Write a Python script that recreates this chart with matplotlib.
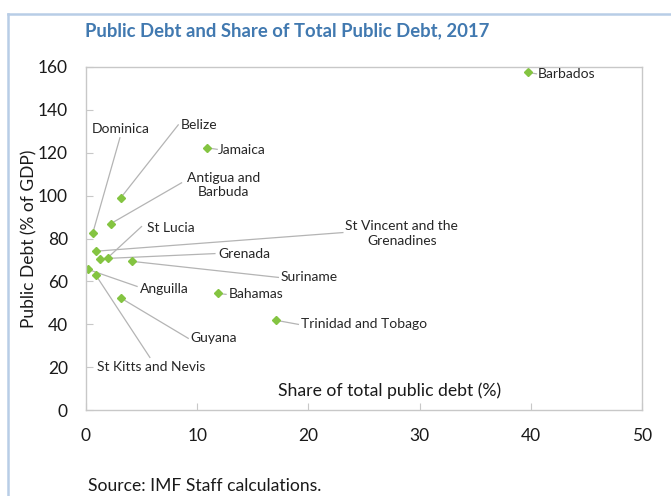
import matplotlib
matplotlib.use("Agg")
import matplotlib.pyplot as plt
from matplotlib.lines import Line2D

plt.rcParams['font.family'] = ['Lato', 'DejaVu Sans']

countries = ['Barbados', 'Jamaica', 'Belize', 'Antigua and\nBarbuda', 'Dominica',
             'St Vincent and the\nGrenadines', 'Grenada', 'St Lucia', 'Suriname',
             'Anguilla', 'St Kitts and Nevis', 'Guyana', 'Bahamas', 'Trinidad and Tobago']
share = [39.7, 10.9, 3.15, 2.25, 0.63, 0.87, 1.26, 1.95, 4.1, 0.15, 0.9, 3.2, 11.9, 17.1]
debt = [157.5, 122.3, 99.1, 87.0, 82.8, 74.1, 70.6, 71.0, 69.4, 65.7, 62.9, 52.1, 54.4, 41.9]

# label placement: (text x, text y, ha, leader end x, leader end y)
label_pos = [
    (40.6, 156.5, 'left', 40.5, 156.8),
    (11.9, 121.4, 'left', 11.8, 121.6),
    (8.5, 133.0, 'left', 8.3, 133.0),
    (12.4, 105.0, 'center', 8.6, 106.0),
    (3.1, 131.2, 'center', 3.06, 127.0),
    (28.4, 82.3, 'center', 23.1, 82.8),
    (11.9, 73.0, 'left', 11.6, 73.0),
    (5.5, 85.1, 'left', 5.0, 85.6),
    (17.5, 61.9, 'left', 17.3, 61.9),
    (4.9, 56.7, 'left', 4.6, 57.7),
    (1.0, 20.0, 'left', 5.75, 24.6),
    (9.35, 33.5, 'left', 9.2, 33.5),
    (12.8, 54.0, 'left', 12.6, 54.0),
    (19.3, 40.0, 'left', 19.1, 40.0),
]

fig = plt.figure(figsize=(6.71, 4.96), dpi=100)
ax = fig.add_axes([0.128, 0.173, 0.829, 0.692])

grey = '#c8c8c8'
for (tx, ty, ha, lx, ly), x, y, name in zip(label_pos, share, debt, countries):
    ax.plot([x, lx], [y, ly], color='#b4b4b4', lw=0.9, zorder=1)
    ax.text(tx, ty, name, ha=ha, va='center', fontsize=10, color='#262626',
            multialignment='center', linespacing=1.25, zorder=3)

ax.plot(share, debt, ls='none', marker='D', ms=4.3, color='#84c441', zorder=2)

ax.set_xlim(0, 50)
ax.set_ylim(0, 160)
ax.set_xticks(range(0, 51, 10))
ax.set_yticks(range(0, 161, 20))
ax.tick_params(direction='in', length=5, color=grey, labelsize=12.5,
               labelcolor='#1a1a1a', pad=13)
for s in ax.spines.values():
    s.set_color(grey)
    s.set_linewidth(1)

ax.set_ylabel('Public Debt (% of GDP)', fontsize=12.5, color='#1a1a1a', labelpad=0)
ax.text(17.3, 9.3, 'Share of total public debt (%)', fontsize=12.7,
        color='#1a1a1a', va='center')

fig.text(0.127, 0.937, 'Public Debt and Share of Total Public Debt, 2017',
         fontsize=13.3, fontweight='bold', color='#4179b0', va='center')
fig.text(0.131, 0.02, 'Source: IMF Staff calculations.', fontsize=12.6,
         color='#1a1a1a', va='center')

# light blue panel border on left and top
border = '#b8cde6'
fig.add_artist(Line2D([0.012, 0.012], [0, 0.972], color=border, lw=1.8))
fig.add_artist(Line2D([0.012, 1.0], [0.972, 0.972], color=border, lw=1.8))

fig.savefig('out.png', dpi=100)
